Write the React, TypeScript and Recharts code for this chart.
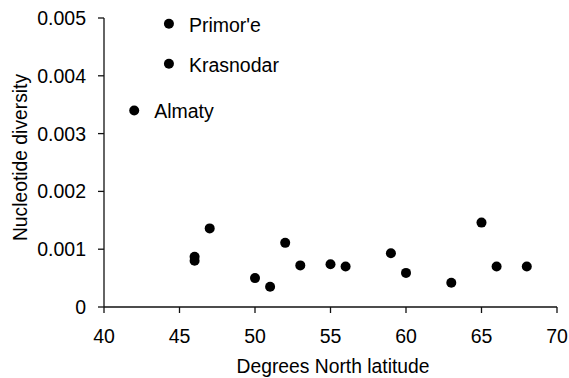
import React from 'react';
import { ScatterChart, Scatter, XAxis, YAxis } from 'recharts';

const latitudes = [44.3, 44.3, 42, 46, 46, 47, 50, 51, 52, 53, 55, 56, 59, 60, 63, 65, 66, 68];
const diversity = [0.0049, 0.00421, 0.0034, 0.00087, 0.0008, 0.00136, 0.0005, 0.00035, 0.00111, 0.00072, 0.00074, 0.0007, 0.00093, 0.00059, 0.00042, 0.00146, 0.0007, 0.0007];
const siteNames = ["Primor'e", 'Krasnodar', 'Almaty', '', '', '', '', '', '', '', '', '', '', '', '', '', '', ''];
const xTicks = [40, 45, 50, 55, 60, 65, 70];
const yTicks = [0, 0.001, 0.002, 0.003, 0.004, 0.005];

const data = latitudes.map((lat, i) => ({ lat, pi: diversity[i], name: siteNames[i] }));

const FONT = '"Liberation Sans", Arial, Helvetica, sans-serif';

const Dot = (props: any) => {
  const { cx, cy, payload } = props;
  return (
    <g>
      <circle cx={cx} cy={cy} r={5} fill="#000" />
      {payload && payload.name ? (
        <text x={cx + 20} y={cy + 8} fontSize={19.5} fontFamily={FONT} fill="#000">
          {payload.name}
        </text>
      ) : null}
    </g>
  );
};

const YTitle = (props: any) => {
  const vb = props.viewBox || { x: 0, y: 18, width: 104, height: 289 };
  const cx = 26.7;
  const cy = vb.y + vb.height / 2 - 5;
  return (
    <text x={cx} y={cy} transform={`rotate(-90, ${cx}, ${cy})`} textAnchor="middle" fontSize={19.3} fontFamily={FONT} fill="#000">
      Nucleotide diversity
    </text>
  );
};

const XTitle = (props: any) => {
  const vb = props.viewBox || { x: 104, y: 307, width: 453, height: 71 };
  const cx = vb.x + vb.width / 2 + 2.5;
  const cy = vb.y + 66;
  return (
    <text x={cx} y={cy} textAnchor="middle" fontSize={19.3} fontFamily={FONT} fill="#000">
      Degrees North latitude
    </text>
  );
};

export default function App() {
  return (
    <div style={{ position: 'absolute', left: 0, top: 0, background: '#fff' }}>
      <ScatterChart width={569} height={378} margin={{ top: 18, right: 12, bottom: 0, left: 0 }}>
        <XAxis
          type="number"
          dataKey="lat"
          domain={[40, 70]}
          ticks={xTicks}
          interval={0}
          height={71}
          tickSize={6}
          tickMargin={16}
          axisLine={{ stroke: '#111', strokeWidth: 1.3 }}
          tickLine={{ stroke: '#111', strokeWidth: 1.3 }}
          tick={{ fill: '#000', fontSize: 19.5, fontFamily: FONT }}
          label={(p: any) => <XTitle {...p} />}
        />
        <YAxis
          type="number"
          dataKey="pi"
          domain={[0, 0.005]}
          ticks={yTicks}
          interval={0}
          width={104}
          tickSize={6}
          tickMargin={12}
          axisLine={{ stroke: '#111', strokeWidth: 1.3 }}
          tickLine={{ stroke: '#111', strokeWidth: 1.3 }}
          tick={{ fill: '#000', fontSize: 19.5, fontFamily: FONT }}
          tickFormatter={(v: number) => (v === 0 ? '0' : v.toFixed(3))}
          label={(p: any) => <YTitle {...p} />}
        />
        <Scatter data={data} shape={<Dot />} isAnimationActive={false} />
      </ScatterChart>
    </div>
  );
}
